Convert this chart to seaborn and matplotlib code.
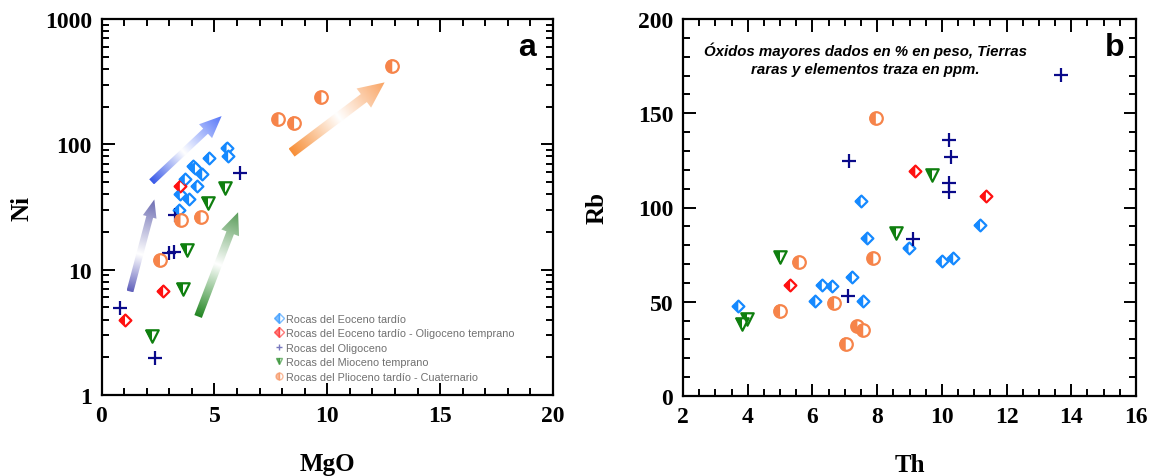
import numpy as np
import pandas as pd
import matplotlib
matplotlib.use("Agg")
import matplotlib.pyplot as plt
import matplotlib.ticker as mticker
from matplotlib.markers import MarkerStyle
from matplotlib.colors import LinearSegmentedColormap
from matplotlib.patches import Polygon
from matplotlib.lines import Line2D
import seaborn as sns

# ---- datos panel a (MgO vs Ni) ----
eoc_mgo = [5.54, 5.61, 4.77, 4.04, 4.14, 4.46, 3.69, 4.21, 3.47, 3.88, 3.44]
eoc_ni = [94, 80.6, 78.3, 67, 64.3, 57.5, 52.5, 46.4, 39.8, 36.3, 29.9]
eoo_mgo = [3.47, 2.73, 1.04]
eoo_ni = [46.4, 6.8, 4.0]
oli_mgo = [6.13, 3.25, 3.0, 3.22, 0.82, 2.37]
oli_ni = [59.4, 27.5, 13.6, 13.8, 4.9, 1.97]
mio_mgo = [5.46, 4.7, 3.77, 3.59, 2.22]
mio_ni = [45, 34.2, 14.3, 7.0, 2.97]
pli_mgo = [3.5, 4.39, 2.59, 7.84, 8.53, 9.74, 12.88]
pli_ni = [24.8, 26.1, 11.9, 158, 149, 238, 423]

# ---- datos panel b (Th vs Rb) ----
eoc_th = [7.49, 7.70, 8.97, 11.18, 10.00, 10.35, 7.22, 6.29, 6.60, 6.09, 7.57, 3.71]
eoc_rb = [103.5, 83.8, 78.7, 90.8, 71.8, 73.2, 63.3, 58.9, 58.4, 50.3, 50.3, 47.5]
eoo_th = [5.31, 11.36, 9.18]
eoo_rb = [58.9, 106, 119.4]
oli_th = [13.68, 10.21, 10.28, 7.12, 10.21, 10.21, 9.12, 7.11]
oli_rb = [170.5, 135.6, 126.8, 124.5, 113.2, 108.1, 83.2, 53.3]
mio_th = [5.0, 8.58, 9.69, 3.97, 3.81]
mio_rb = [73.5, 86.6, 117.1, 40.9, 38.1]
pli_th = [7.96, 5.58, 7.88, 5.0, 6.67, 7.39, 7.57, 7.03]
pli_rb = [147.3, 70.9, 73, 45.3, 49.6, 37, 34.8, 27.7]

grupos = ["Rocas del Eoceno tardío",
          "Rocas del Eoceno tardío - Oligoceno temprano",
          "Rocas del Oligoceno",
          "Rocas del Mioceno temprano",
          "Rocas del Plioceno tardío - Cuaternario"]

# flechas del panel a: (MgO, Ni) cola -> punta
flechas = [
    ((2.22, 50.2), (5.32, 168), ["#3a5ae8", "#ffffff", "#5575f8"], 0.45, 7, 19, 22),
    ((1.26, 6.7), (2.34, 36.3), ["#6262bc", "#ffffff", "#6c6cb2"], 0.4, 7, 14, 18),
    ((4.28, 4.23), (6.05, 28.7), ["#228622", "#ffffff", "#5a9c5a"], 0.5, 8, 19, 22),
    ((8.42, 85.9), (12.54, 312), ["#f78f38", "#ffffff", "#f9a260"], 0.5, 10, 24, 26),
]

colores = ["#1589ff", "#ff1010", "#0a0a8a", "#0f7f0f", "#f6844a"]
marcas = ["D", "D", "+", "v", "o"]
tamanos = [36, 36, 90, 80, 82]

sns.set_style("ticks")
plt.rcParams["font.family"] = ["Liberation Serif", "DejaVu Serif"]
plt.rcParams["text.color"] = "black"
plt.rcParams["axes.labelcolor"] = "black"
plt.rcParams["xtick.color"] = "black"
plt.rcParams["ytick.color"] = "black"

fig = plt.figure(figsize=(11.55, 4.77), dpi=100)
axa = fig.add_axes([101.5 / 1155, 1 - 396 / 477, 451.5 / 1155, 376 / 477])
axb = fig.add_axes([683 / 1155, 1 - 397 / 477, 453 / 1155, 377 / 477])


def puntos(ax, x, y, k):
    m = marcas[k]
    c = colores[k]
    if m == "+":
        sns.scatterplot(x=x, y=y, ax=ax, marker="+", s=tamanos[k], color=c,
                        linewidth=1.6, zorder=4)
        return
    sns.scatterplot(x=x, y=y, ax=ax, marker=m, s=tamanos[k], color="white",
                    edgecolor=c, linewidth=1.6, zorder=4)
    sns.scatterplot(x=x, y=y, ax=ax, marker=MarkerStyle(m, fillstyle="left"),
                    s=tamanos[k], color=c, edgecolor="none", linewidth=0, zorder=5)


def estilo(ax):
    for s in ax.spines.values():
        s.set_linewidth(1.6)
        s.set_color("black")
    ax.tick_params(which="both", direction="in", top=True, right=True,
                   color="black", labelcolor="black", width=1.4)
    ax.tick_params(which="major", length=9, labelsize=17, pad=7)
    ax.tick_params(which="minor", length=5)
    for lab in ax.get_xticklabels() + ax.get_yticklabels():
        lab.set_fontweight("bold")


# ---- panel a ----
datos_a = [(eoc_mgo, eoc_ni), (eoo_mgo, eoo_ni), (oli_mgo, oli_ni),
           (mio_mgo, mio_ni), (pli_mgo, pli_ni)]
for k, (x, y) in enumerate(datos_a):
    puntos(axa, x, y, k)
axa.set_yscale("log")
axa.set_xlim(0, 20)
axa.set_ylim(1, 1000)
axa.xaxis.set_major_locator(mticker.MultipleLocator(5))
axa.xaxis.set_minor_locator(mticker.MultipleLocator(1))
axa.yaxis.set_major_locator(mticker.FixedLocator([1, 10, 100, 1000]))
axa.yaxis.set_major_formatter(mticker.FuncFormatter(lambda v, p: f"{v:g}"))
axa.yaxis.set_minor_locator(mticker.LogLocator(subs=np.arange(2, 10)))
axa.yaxis.set_minor_formatter(mticker.NullFormatter())
axa.set_xlabel("MgO", fontsize=18, fontweight="bold")
axa.set_ylabel("Ni", fontsize=18, fontweight="bold")
axa.xaxis.set_label_coords(0.5, -0.152)
axa.yaxis.set_label_coords(-0.15, 0.5)
estilo(axa)
axa.text(0.942, 0.905, "a", transform=axa.transAxes, ha="center", va="baseline",
         fontsize=23, fontweight="bold", family="Liberation Sans")

handles = []
for k in range(5):
    handles.append(Line2D([], [], linestyle="none", marker=marcas[k], markersize=5,
                          color=colores[k], alpha=0.55, fillstyle="left",
                          markerfacecoloralt="white", markeredgewidth=1))
leg = axa.legend(handles, grupos, loc="lower left", bbox_to_anchor=(0.37, 0.015),
                 frameon=False, handlelength=0.6, handletextpad=0.35,
                 labelspacing=0.42, borderpad=0.2,
                 prop={"family": "Liberation Sans", "size": 7.8})
for t in leg.get_texts():
    t.set_color("#707070")

# capa de flechas en pixeles, debajo de los puntos
axa.set_zorder(2)
axa.patch.set_alpha(0)
ov = fig.add_axes(axa.get_position(), zorder=1)
wpx, hpx = 451.5, 376
ov.set_xlim(0, wpx)
ov.set_ylim(0, hpx)
ov.axis("off")

for (x0, y0), (x1, y1), cols, mid, w, hw, hl in flechas:
    sx, sy = x0 / 20 * wpx, np.log10(y0) / 3 * hpx
    ex, ey = x1 / 20 * wpx, np.log10(y1) / 3 * hpx
    L = np.hypot(ex - sx, ey - sy)
    d = np.array([ex - sx, ey - sy]) / L
    n = np.array([-d[1], d[0]])
    s = np.array([sx, sy])
    neck = s + d * (L - hl)
    pts = [s + n * w / 2, neck + n * w / 2, neck + n * hw / 2, s + d * L,
           neck - n * hw / 2, neck - n * w / 2, s - n * w / 2]
    poly = Polygon(pts, closed=True, facecolor="none", edgecolor="none")
    ov.add_patch(poly)
    pts = np.array(pts)
    xmin, ymin = pts.min(axis=0)
    xmax, ymax = pts.max(axis=0)
    gx, gy = np.meshgrid(np.linspace(xmin, xmax, 200), np.linspace(ymin, ymax, 200))
    t = np.clip(((gx - sx) * d[0] + (gy - sy) * d[1]) / L, 0, 1)
    cmap = LinearSegmentedColormap.from_list("g", [(0, cols[0]), (mid, cols[1]), (1, cols[2])])
    im = ov.imshow(t, extent=[xmin, xmax, ymin, ymax], origin="lower", cmap=cmap,
                   vmin=0, vmax=1, aspect="auto", interpolation="bilinear")
    im.set_clip_path(poly)
ov.set_xlim(0, wpx)
ov.set_ylim(0, hpx)

# ---- panel b ----
datos_b = [(eoc_th, eoc_rb), (eoo_th, eoo_rb), (oli_th, oli_rb),
           (mio_th, mio_rb), (pli_th, pli_rb)]
for k, (x, y) in enumerate(datos_b):
    puntos(axb, x, y, k)
axb.set_xlim(2, 16)
axb.set_ylim(0, 200)
axb.xaxis.set_major_locator(mticker.MultipleLocator(2))
axb.xaxis.set_minor_locator(mticker.MultipleLocator(0.5))
axb.yaxis.set_major_locator(mticker.MultipleLocator(50))
axb.yaxis.set_minor_locator(mticker.MultipleLocator(10))
axb.set_xlabel("Th", fontsize=18, fontweight="bold")
axb.set_ylabel("Rb", fontsize=18, fontweight="bold")
axb.xaxis.set_label_coords(0.5, -0.152)
axb.yaxis.set_label_coords(-0.165, 0.5)
estilo(axb)
axb.text(0.954, 0.905, "b", transform=axb.transAxes, ha="center", va="baseline",
         fontsize=23, fontweight="bold", family="Liberation Sans")
axb.text(0.402, 0.894, "Óxidos mayores dados en % en peso, Tierras\nraras y elementos traza en ppm.",
         transform=axb.transAxes, ha="center", va="center", fontsize=10.8,
         fontweight="bold", style="italic", family="Liberation Sans", linespacing=1.35)

fig.savefig("out.png", dpi=100)
